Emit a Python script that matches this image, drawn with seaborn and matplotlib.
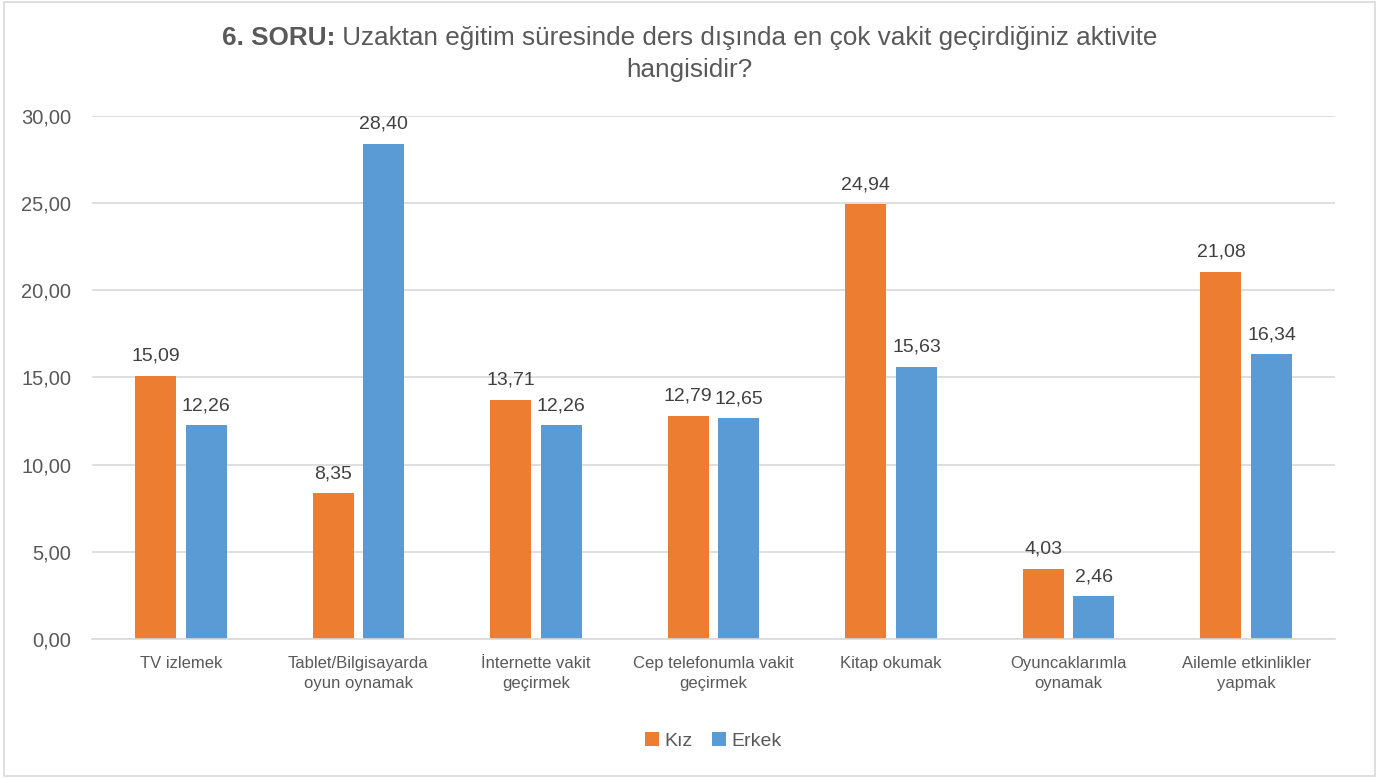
import pandas as pd
import seaborn as sns
import matplotlib.pyplot as plt
from matplotlib.patches import Rectangle

# data
categories = ['TV izlemek', 'Tablet/Bilgisayarda\noyun oynamak', 'İnternette vakit\ngeçirmek',
              'Cep telefonumla vakit\ngeçirmek', 'Kitap okumak', 'Oyuncaklarımla\noynamak',
              'Ailemle etkinlikler\nyapmak']
kiz = [15.09, 8.35, 13.71, 12.79, 24.94, 4.03, 21.08]
erkek = [12.26, 28.40, 12.26, 12.65, 15.63, 2.46, 16.34]
groups = ['Kız', 'Erkek']
y_ticks = [0, 5, 10, 15, 20, 25, 30]

df = pd.DataFrame({
    'kategori': categories * 2,
    'grup': [groups[0]] * len(categories) + [groups[1]] * len(categories),
    'deger': kiz + erkek,
})

sns.set_style('white')
plt.rcParams['font.family'] = ['Liberation Sans', 'DejaVu Sans']
text_col = '#595959'

fig = plt.figure(figsize=(13.79, 7.78), dpi=100)
ax = fig.add_axes([92 / 1379, 1 - 639 / 778, (1335 - 92) / 1379, (639 - 116) / 778])

sns.barplot(data=df, x='kategori', y='deger', hue='grup', order=categories, hue_order=groups,
            palette=['#ED7D31', '#5B9BD5'], saturation=1, width=0.57, gap=0.19,
            linewidth=0, ax=ax, legend=True)

for cont in ax.containers:
    ax.bar_label(cont, labels=[f'{b.get_height():.2f}'.replace('.', ',') for b in cont],
                 padding=8, fontsize=14, color='#404040')

ax.set_ylim(0, 30)
ax.set_xlim(-0.5, 6.5)
ax.set_yticks(y_ticks)
ax.set_yticklabels([f'{v:.2f}'.replace('.', ',') for v in y_ticks])
ax.yaxis.grid(True, color='#D9D9D9', linewidth=1.2)
ax.set_axisbelow(True)
for s in ['top', 'right', 'left']:
    ax.spines[s].set_visible(False)
ax.spines['bottom'].set_color('#D9D9D9')
ax.spines['bottom'].set_linewidth(1.2)
ax.tick_params(axis='y', length=0, labelsize=14.5, labelcolor=text_col, pad=15)
ax.tick_params(axis='x', length=0, labelsize=12, labelcolor=text_col, pad=12)
for lab in ax.get_xticklabels():
    lab.set_linespacing(1.45)
ax.set_xlabel('')
ax.set_ylabel('')

leg = ax.legend(loc='center', bbox_to_anchor=(0.5, -0.195), ncol=2, frameon=False,
                fontsize=14, handlelength=0.7, handleheight=0.7, handletextpad=0.3,
                columnspacing=1.0)
for t in leg.get_texts():
    t.set_color(text_col)

# title: bold prefix + normal text, centred together
title_size = 18.8
r = fig.canvas.get_renderer()
y1 = 1 - 38 / 778
t_bold = fig.text(0, y1, '6. SORU:', fontsize=title_size, fontweight='bold', color=text_col,
                  va='center', ha='left')
t_rest = fig.text(0, y1, ' Uzaktan eğitim süresinde ders dışında en çok vakit geçirdiğiniz aktivite',
                  fontsize=title_size, color=text_col, va='center', ha='left')
w1 = t_bold.get_window_extent(r).width / fig.bbox.width
w2 = t_rest.get_window_extent(r).width / fig.bbox.width
x0 = 0.5 - (w1 + w2) / 2
t_bold.set_x(x0)
t_rest.set_x(x0 + w1)
fig.text(0.5, 1 - 70 / 778, 'hangisidir?', ha='center', va='center', fontsize=title_size, color=text_col)

fig.patches.append(Rectangle((0.003, 0.003), 0.994, 0.994, transform=fig.transFigure,
                             fill=False, edgecolor='#D9D9D9', linewidth=1.2))

plt.savefig('out.png', dpi=100)
